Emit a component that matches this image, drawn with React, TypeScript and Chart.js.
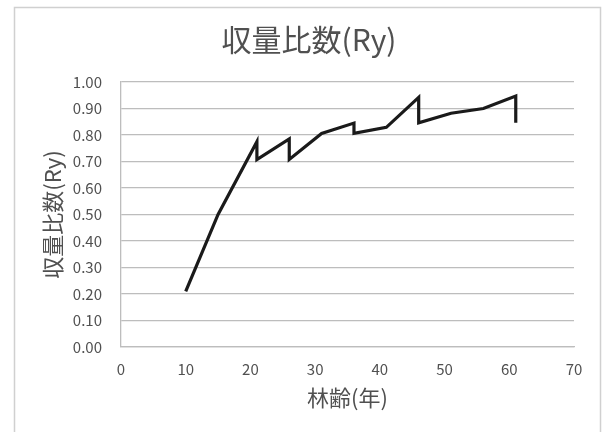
import React, { useEffect, useRef } from "react";
import { Chart, registerables } from "chart.js";

Chart.register(...registerables);

const ages = [10, 15, 21, 21, 26, 26, 31, 36, 36, 41, 46, 46, 51, 56, 61, 61];
const ryValues = [0.21, 0.5, 0.775, 0.707, 0.785, 0.708, 0.806, 0.845, 0.806, 0.829, 0.942, 0.846, 0.882, 0.9, 0.947, 0.846];
const chartTitle = "収量比数(Ry)";
const xTitle = "林齢(年)";
const yTitle = "収量比数(Ry)";

const FONT = "'Noto Sans CJK JP', 'Noto Sans', sans-serif";
const TEXT = "#505050";
const GRID = "#bdbdbd";

const framePlugin = {
  id: "frame",
  beforeDraw(chart: any) {
    const ctx = chart.ctx;
    ctx.save();
    ctx.fillStyle = "#ffffff";
    ctx.fillRect(0, 0, chart.width, chart.height);
    ctx.strokeStyle = "#d0d0d0";
    ctx.lineWidth = 1.5;
    ctx.strokeRect(14.5, 7.5, 586, 440);
    ctx.restore();
  },
  afterDraw(chart: any) {
    const ctx = chart.ctx;
    ctx.save();
    ctx.fillStyle = TEXT;
    ctx.font = `30px ${FONT}`;
    ctx.textAlign = "center";
    ctx.textBaseline = "middle";
    ctx.fillText(chartTitle, 309, 40);
    ctx.restore();
  },
};

export default function App() {
  const ref = useRef<HTMLCanvasElement | null>(null);
  useEffect(() => {
    if (!ref.current) return;
    const points = ages.map((a, i) => ({ x: a, y: ryValues[i] }));
    const chart = new Chart(ref.current, {
      type: "scatter",
      data: {
        datasets: [
          {
            data: points,
            showLine: true,
            borderColor: "#1a1a1a",
            borderWidth: 3.2,
            pointRadius: 0,
            pointHoverRadius: 0,
            tension: 0,
            borderJoinStyle: "miter",
          } as any,
        ],
      },
      options: {
        responsive: false,
        animation: false,
        layout: { padding: { left: 0, right: 29, top: 82, bottom: 0 } },
        plugins: {
          legend: { display: false },
          tooltip: { enabled: false },
          title: { display: false },
        },
        scales: {
          x: {
            type: "linear",
            min: 0,
            max: 70,
            afterFit: (s: any) => {
              s.height = 85;
            },
            ticks: {
              stepSize: 10,
              color: TEXT,
              padding: 13,
              font: { family: FONT, size: 15 },
            },
            grid: { display: false, drawTicks: false },
            border: { display: true, color: GRID, width: 1.3 },
            title: {
              display: true,
              text: xTitle,
              color: TEXT,
              font: { family: FONT, size: 22 },
              padding: { top: 0, bottom: 21 },
            },
          },
          y: {
            type: "linear",
            min: 0,
            max: 1,
            afterFit: (s: any) => {
              s.width = 121;
            },
            ticks: {
              stepSize: 0.1,
              color: TEXT,
              padding: 19,
              font: { family: FONT, size: 15 },
              callback: (v: any) => Number(v).toFixed(2),
            },
            grid: { color: GRID, lineWidth: 1.3, drawTicks: false },
            border: { display: true, color: GRID, width: 1.3 },
            title: {
              display: true,
              text: yTitle,
              color: TEXT,
              font: { family: FONT, size: 22 },
              padding: { top: 39, bottom: 0 },
            },
          },
        },
      },
      plugins: [framePlugin],
    });
    return () => chart.destroy();
  }, []);
  return (
    <div style={{ position: "fixed", left: 0, top: 0, width: 603, height: 432, background: "#fff" }}>
      <canvas ref={ref} width={603} height={432} style={{ display: "block" }} />
    </div>
  );
}
